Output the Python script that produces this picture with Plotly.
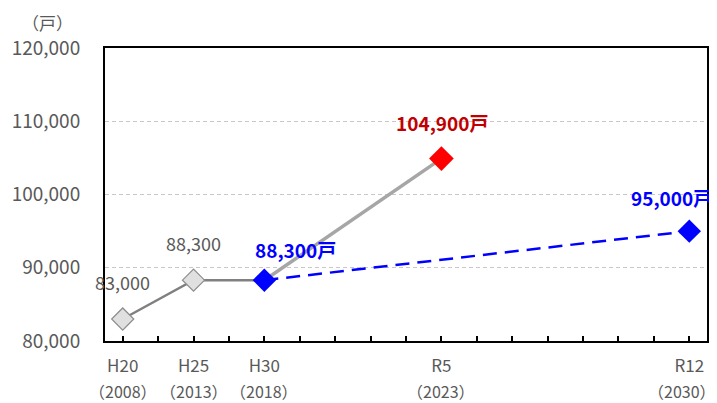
import plotly.graph_objects as go

# ---- data ----
period_labels = ["H20", "H25", "H30", "R5", "R12"]
year_labels = ["（2008）", "（2013）", "（2018）", "（2023）", "（2030）"]
tick_index = [0, 2, 4, 9, 16]          # position of each period on the axis
past_x = [0, 2, 4]
past_values = [83000, 88300, 88300]
latest_x = [4, 9]
latest_values = [88300, 104900]
target_x = [4, 16]
target_values = [88300, 95000]

FONT = "Noto Sans CJK JP"
GRAY_TXT = "#595959"

fig = go.Figure()

fig.add_trace(go.Scatter(x=latest_x, y=latest_values, mode="lines",
                         line=dict(color="#a6a6a6", width=3.5), hoverinfo="skip"))
fig.add_trace(go.Scatter(x=target_x, y=target_values, mode="lines",
                         line=dict(color="#0000ff", width=2.5, dash="14px,8px"), hoverinfo="skip"))
fig.add_trace(go.Scatter(x=past_x, y=past_values, mode="lines",
                         line=dict(color="#808080", width=2.5), hoverinfo="skip"))
fig.add_trace(go.Scatter(x=past_x[:2], y=past_values[:2], mode="markers",
                         marker=dict(symbol="diamond", size=17, color="#e0e0e0",
                                     line=dict(color="#8c8c8c", width=1.2))))
fig.add_trace(go.Scatter(x=target_x, y=target_values, mode="markers",
                         marker=dict(symbol="diamond", size=18, color="#0000ff")))
fig.add_trace(go.Scatter(x=latest_x[1:], y=latest_values[1:], mode="markers",
                         marker=dict(symbol="diamond", size=19, color="#ff0000")))

def fmt(v):
    return f"{v:,}"

annotations = [
    dict(x=past_x[0], y=past_values[0], text=fmt(past_values[0]), xshift=0, yshift=37,
         font=dict(color=GRAY_TXT, size=18)),
    dict(x=past_x[1], y=past_values[1], text=fmt(past_values[1]), xshift=0, yshift=37,
         font=dict(color=GRAY_TXT, size=18)),
    dict(x=target_x[0], y=target_values[0], text=f"<b>{fmt(target_values[0])}戸</b>", xshift=31, yshift=31,
         font=dict(color="#0000ff", size=19)),
    dict(x=latest_x[1], y=latest_values[1], text=f"<b>{fmt(latest_values[1])}戸</b>", xshift=1, yshift=36,
         font=dict(color="#c00000", size=19)),
    dict(x=target_x[1], y=target_values[1], text=f"<b>{fmt(target_values[1])}戸</b>", xshift=-18, yshift=34,
         font=dict(color="#0000ff", size=19)),
]
for a in annotations:
    a.update(xref="x", yref="y", showarrow=False, font=dict(family=FONT, **a["font"]))
    fig.add_annotation(**a)

# second line of x labels (years)
for xi, yl in zip(tick_index, year_labels):
    fig.add_annotation(x=xi, xref="x", y=0, yref="paper", yshift=-50, text=yl,
                       showarrow=False, xanchor="center", yanchor="middle",
                       xshift=-7 if xi == tick_index[-1] else 0,
                       font=dict(family=FONT, size=16, color=GRAY_TXT))

fig.add_annotation(xref="paper", yref="paper", x=-0.096, y=1.0, yshift=26,
                   text="（戸）", showarrow=False, xanchor="center", yanchor="middle",
                   font=dict(family=FONT, size=17, color=GRAY_TXT))

# the page body adds an 8px offset, so the figure is sized to fit the window
fig.update_layout(
    width=709, height=395,
    margin=dict(l=97, r=10, t=40, b=62),
    paper_bgcolor="white", plot_bgcolor="white",
    showlegend=False,
    font=dict(family=FONT, color=GRAY_TXT),
)
fig.update_xaxes(
    automargin=False, ticklabeloverflow="allow",
    range=[-0.5, 16.5], tickmode="array", tickvals=tick_index, ticktext=period_labels,
    ticks="inside", ticklen=5, tickcolor="black", tickwidth=1.5, ticklabelstandoff=9,
    minor=dict(ticks="inside", dtick=1, tick0=0, ticklen=5, tickcolor="black", tickwidth=1.5, showgrid=False),
    showgrid=False, zeroline=False,
    showline=True, linecolor="black", linewidth=2, mirror=True,
    tickfont=dict(family=FONT, size=17, color=GRAY_TXT),
)
fig.update_yaxes(
    automargin=False,
    range=[80000, 120000], dtick=10000, tickformat=",d",
    showgrid=True, gridcolor="#c8c8c8", griddash="4px,3px", gridwidth=1,
    zeroline=False, ticks="", ticklabelstandoff=19,
    showline=True, linecolor="black", linewidth=2, mirror=True,
    tickfont=dict(family=FONT, size=19, color=GRAY_TXT),
)

fig.write_html("out.html")
